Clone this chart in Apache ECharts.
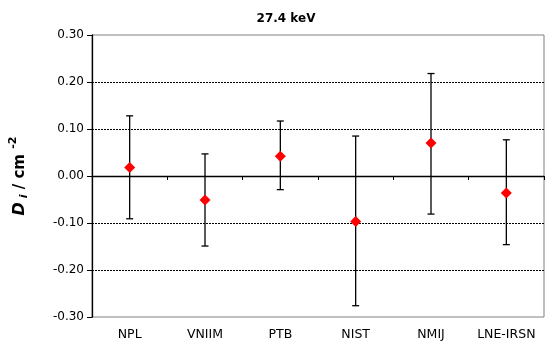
<!DOCTYPE html>
<html>
<head>
<meta charset="utf-8">
<script src="https://cdn.jsdelivr.net/npm/echarts@6/dist/echarts.min.js"></script>
<style>html,body{margin:0;padding:0;background:#fff;}#c{width:550px;height:352px;}</style>
</head>
<body>
<div id="c"></div>
<script>
const categories = ['NPL', 'VNIIM', 'PTB', 'NIST', 'NMIJ', 'LNE-IRSN'];
const values = [0.018, -0.051, 0.042, -0.097, 0.070, -0.036];
const errLow = [-0.091, -0.149, -0.029, -0.276, -0.081, -0.146];
const errHigh = [0.128, 0.047, 0.117, 0.085, 0.218, 0.077];
const yTicks = [-0.3, -0.2, -0.1, 0, 0.1, 0.2, 0.3];

const FONT = 'DejaVu Sans, Verdana, sans-serif';
const chart = echarts.init(document.getElementById('c'), null, {renderer: 'canvas'});

const errData = categories.map((c, i) => [i, errLow[i], errHigh[i]]);
const splitColors = yTicks.map((t, i) => (i === 0 || i === yTicks.length - 1) ? 'rgba(0,0,0,0)' : '#000');

chart.setOption({
  animation: false,
  backgroundColor: '#fff',
  title: {
    text: '27.4 keV', left: 281, top: 8, textAlign: 'center',
    textStyle: {fontFamily: FONT, fontSize: 12, fontWeight: 'bold', color: '#000'}
  },
  grid: {left: 91, right: 6, top: 35, bottom: 35, show: true, borderColor: '#808080', borderWidth: 1},
  xAxis: [{
    type: 'category', data: categories, position: 'bottom',
    axisLine: {onZero: true, lineStyle: {color: '#000', width: 1.3}},
    axisTick: {show: true, inside: false, length: 4, lineStyle: {color: '#000'}},
    axisLabel: {show: false}, splitLine: {show: false}
  }, {
    type: 'category', data: categories, position: 'bottom',
    axisLine: {show: false, onZero: false},
    axisTick: {show: false},
    axisLabel: {show: true, interval: 0, margin: 11, fontFamily: FONT, fontSize: 12.5, color: '#000'},
    splitLine: {show: false}
  }],
  yAxis: {
    type: 'value', min: -0.3, max: 0.3, interval: 0.1,
    axisLine: {show: true, lineStyle: {color: '#000', width: 1.3}},
    axisTick: {show: true, length: 5, lineStyle: {color: '#000'}},
    axisLabel: {margin: 8, fontFamily: FONT, fontSize: 12, color: '#000',
      formatter: v => v.toFixed(2)},
    splitLine: {show: true, lineStyle: {color: splitColors, type: [2, 1], width: 1}},
    name: '{d|D}{i| i}{n| / cm }{s|-2}',
    nameLocation: 'middle', nameRotate: 90, nameGap: 60,
    nameTextStyle: {
      fontFamily: FONT, fontSize: 15, fontWeight: 'bold', color: '#000',
      rich: {
        d: {fontFamily: FONT, fontSize: 16, fontWeight: 'bold', fontStyle: 'italic', lineHeight: 24, verticalAlign: 'middle'},
        i: {fontFamily: FONT, fontSize: 11, fontWeight: 'bold', fontStyle: 'italic', lineHeight: 24, verticalAlign: 'bottom', padding: [0, 0, 2, 0]},
        n: {fontFamily: FONT, fontSize: 15, fontWeight: 'bold', lineHeight: 24, verticalAlign: 'middle'},
        s: {fontFamily: FONT, fontSize: 11, fontWeight: 'bold', lineHeight: 24, verticalAlign: 'top'}
      }
    }
  },
  series: [{
    type: 'custom',
    xAxisIndex: 0,
    data: errData,
    z: 3,
    renderItem: function (params, api) {
      const x = api.value(0);
      const lo = api.coord([x, api.value(1)]);
      const hi = api.coord([x, api.value(2)]);
      const cw = 3.5;
      const st = {stroke: '#000', lineWidth: 1.3};
      return {
        type: 'group',
        children: [
          {type: 'line', shape: {x1: lo[0], y1: lo[1], x2: hi[0], y2: hi[1]}, style: st},
          {type: 'line', shape: {x1: lo[0] - cw, y1: lo[1], x2: lo[0] + cw, y2: lo[1]}, style: st},
          {type: 'line', shape: {x1: hi[0] - cw, y1: hi[1], x2: hi[0] + cw, y2: hi[1]}, style: st}
        ]
      };
    }
  }, {
    type: 'scatter',
    xAxisIndex: 0,
    data: values,
    symbol: 'diamond',
    symbolSize: [11, 11],
    itemStyle: {color: '#ff0000', opacity: 1},
    z: 5
  }]
});
</script>
</body>
</html>
